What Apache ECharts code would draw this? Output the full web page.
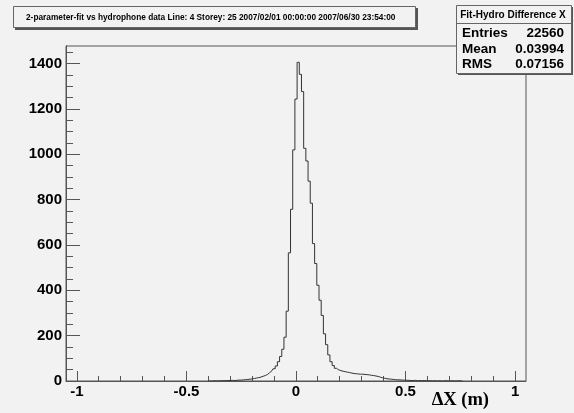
<!DOCTYPE html>
<html>
<head>
<meta charset="utf-8">
<script src="https://cdn.jsdelivr.net/npm/echarts@6/dist/echarts.min.js"></script>
<style>
html,body{margin:0;padding:0;background:#f2f2f2;}
#chart{width:574px;height:413px;}
</style>
</head>
<body>
<div id="chart"></div>
<script>
// ---- data ----
const titleText = "2-parameter-fit vs hydrophone data Line: 4 Storey: 25 2007/02/01 00:00:00 2007/06/30 23:54:00";
const statsTitle = "Fit-Hydro Difference X";
const statsLabels = ["Entries", "Mean", "RMS"];
const statsValues = ["22560", "0.03994", "0.07156"];
const xAxisTitle = "\u0394X (m)";
const binFirstCenter = -0.40;   // centre of first listed bin
const binWidth = 0.01;
const counts = [
  0, 0, 0, 1, 0, 1, 1, 2, 1, 2,            // -0.40 .. -0.31
  2, 3, 2, 3, 4, 4, 5, 6, 7, 8,            // -0.30 .. -0.21
  9, 11, 13, 15, 17, 21, 24, 29, 37, 45,   // -0.20 .. -0.11
  54, 66, 85, 108, 140, 193, 308, 565, 757, 1019, // -0.10 .. -0.01
  1243, 1405, 1352, 1276, 1026, 970, 881, 784, 606, 518, // 0.00 .. 0.09
  422, 356, 289, 208, 160, 115, 85, 68, 56, 49,  // 0.10 .. 0.19
  46, 43, 41, 39, 37, 35, 33, 32, 31, 30,  // 0.20 .. 0.29
  30, 29, 28, 27, 25, 24, 22, 20, 17, 14,  // 0.30 .. 0.39
  12, 10, 9, 8, 7, 6, 5, 5, 4, 4,          // 0.40 .. 0.49
  3, 3, 2, 2, 3, 1, 2, 1, 2, 1,            // 0.50 .. 0.59
  1, 1, 0, 1, 0, 1, 0, 0, 1, 0,            // 0.60 .. 0.69
  0, 1, 0, 0, 1, 0, 0                      // 0.70 .. 0.76
];
const xMin = -1.05, xMax = 1.05;
const yMin = 0, yMax = 1477;
const xMajorTicks = [-1, -0.5, 0, 0.5, 1];
const xMinorTicks = [-0.9, -0.8, -0.7, -0.6, -0.4, -0.3, -0.2, -0.1, 0.1, 0.2, 0.3, 0.4, 0.6, 0.7, 0.8, 0.9];
const yMajorTicks = [0, 200, 400, 600, 800, 1000, 1200, 1400];
const yMinorTicks = [50, 100, 150, 250, 300, 350, 450, 500, 550, 650, 700, 750, 850, 900, 950, 1050, 1100, 1150, 1250, 1300, 1350, 1450];

// ---- build ----
const histData = counts.map((c, i) => [+(binFirstCenter + i * binWidth).toFixed(4), c]);
const bg = '#f2f2f2';
const frameColor = '#555';
const labelFont = {fontFamily: 'Liberation Sans', fontWeight: 'bold', fontSize: 15, color: '#000'};
const plainFmt = v => String(+v.toFixed(4));
const X_MINOR_LEN = 5;

const chart = echarts.init(document.getElementById('chart'), null, {renderer: 'canvas'});
chart.setOption({
  animation: false,
  backgroundColor: bg,
  grid: {left: 66, right: 48, top: 46, bottom: 32, show: true, borderColor: frameColor, borderWidth: 1, backgroundColor: 'transparent'},
  xAxis: [
    {type: 'value', min: xMin, max: xMax, position: 'bottom',
     axisLine: {show: true, onZero: false, lineStyle: {color: frameColor, width: 1}},
     axisTick: {show: true, inside: true, length: 10, customValues: xMajorTicks, lineStyle: {color: frameColor}},
     axisLabel: Object.assign({show: true, margin: 3, customValues: xMajorTicks, formatter: plainFmt}, labelFont),
     splitLine: {show: false}}
  ],
  yAxis: [
    {type: 'value', min: yMin, max: yMax, position: 'left',
     axisLine: {show: true, onZero: false, lineStyle: {color: frameColor, width: 1}},
     axisTick: {show: true, inside: true, length: 14, customValues: yMajorTicks, lineStyle: {color: frameColor}},
     axisLabel: Object.assign({show: true, margin: 4, customValues: yMajorTicks, formatter: plainFmt}, labelFont),
     splitLine: {show: false}},
    {type: 'value', min: yMin, max: yMax, position: 'left', offset: 0,
     axisLine: {show: true, onZero: false, lineStyle: {color: frameColor, width: 1}},
     axisTick: {show: true, inside: true, length: 7, customValues: yMinorTicks, lineStyle: {color: frameColor}},
     axisLabel: {show: false},
     splitLine: {show: false}}
  ],
  series: [{
    type: 'line', step: 'middle', data: histData, xAxisIndex: 0, yAxisIndex: 0,
    symbol: 'none', silent: true,
    lineStyle: {color: '#333', width: 1}
  }, {
    // minor ticks of the x axis, placed through the x scale
    type: 'custom', xAxisIndex: 0, yAxisIndex: 0, silent: true, clip: false,
    data: xMinorTicks.map(v => [v, 0]),
    renderItem: function (params, api) {
      const p = api.coord([api.value(0), 0]);
      const x = Math.floor(p[0]) + 0.5;
      return {type: 'line', shape: {x1: x, y1: p[1], x2: x, y2: p[1] - X_MINOR_LEN},
              style: {stroke: frameColor, lineWidth: 1}};
    }
  }],
  graphic: [
    // title pave
    {type: 'rect', shape: {x: 15, y: 8, width: 403, height: 22}, style: {fill: '#555'}, silent: true},
    {type: 'rect', shape: {x: 13.5, y: 6.5, width: 402, height: 21}, style: {fill: bg, stroke: '#666', lineWidth: 1}, silent: true},
    {type: 'text', x: 26, y: 17.5, style: {text: titleText, fontFamily: 'Liberation Sans', fontWeight: 'bold', fontSize: 8.3, fill: '#000', verticalAlign: 'middle', textAlign: 'left'}, silent: true},
    // stats pave
    {type: 'rect', shape: {x: 458, y: 7, width: 115, height: 68}, style: {fill: '#555'}, silent: true},
    {type: 'rect', shape: {x: 456.5, y: 5.5, width: 115, height: 68}, style: {fill: bg, stroke: '#666', lineWidth: 1}, silent: true},
    {type: 'line', shape: {x1: 456.5, y1: 23.5, x2: 571.5, y2: 23.5}, style: {stroke: '#666', lineWidth: 1}, silent: true},
    {type: 'text', x: 513, y: 15, style: {text: statsTitle, fontFamily: 'Liberation Sans', fontWeight: 'bold', fontSize: 10, fill: '#000', verticalAlign: 'middle', textAlign: 'center'}, silent: true},
    {type: 'text', x: 462, y: 33.5, style: {text: statsLabels[0], fontFamily: 'Liberation Sans', fontWeight: 'bold', fontSize: 13.5, fill: '#000', verticalAlign: 'middle', textAlign: 'left'}, silent: true},
    {type: 'text', x: 462, y: 49, style: {text: statsLabels[1], fontFamily: 'Liberation Sans', fontWeight: 'bold', fontSize: 13.5, fill: '#000', verticalAlign: 'middle', textAlign: 'left'}, silent: true},
    {type: 'text', x: 462, y: 64.5, style: {text: statsLabels[2], fontFamily: 'Liberation Sans', fontWeight: 'bold', fontSize: 13.5, fill: '#000', verticalAlign: 'middle', textAlign: 'left'}, silent: true},
    {type: 'text', x: 564, y: 33.5, style: {text: statsValues[0], fontFamily: 'Liberation Sans', fontWeight: 'bold', fontSize: 13.5, fill: '#000', verticalAlign: 'middle', textAlign: 'right'}, silent: true},
    {type: 'text', x: 564, y: 49, style: {text: statsValues[1], fontFamily: 'Liberation Sans', fontWeight: 'bold', fontSize: 13.5, fill: '#000', verticalAlign: 'middle', textAlign: 'right'}, silent: true},
    {type: 'text', x: 564, y: 64.5, style: {text: statsValues[2], fontFamily: 'Liberation Sans', fontWeight: 'bold', fontSize: 13.5, fill: '#000', verticalAlign: 'middle', textAlign: 'right'}, silent: true},
    // x-axis title
    {type: 'text', x: 489, y: 400, style: {text: xAxisTitle, fontFamily: 'Liberation Serif', fontWeight: 'bold', fontSize: 18.5, fill: '#000', verticalAlign: 'middle', textAlign: 'right'}, silent: true}
  ]
});
</script>
</body>
</html>
